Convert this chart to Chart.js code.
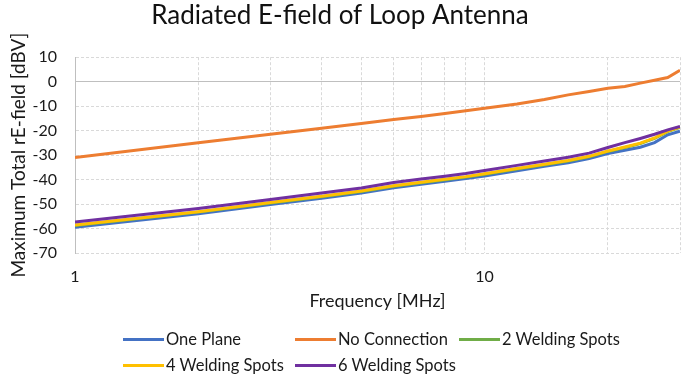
<!DOCTYPE html>
<html>
<head>
<meta charset="utf-8">
<script src="https://cdn.jsdelivr.net/npm/chart.js@4.4.1/dist/chart.umd.min.js"></script>
<style>
  body { margin: 0; background: #fff; }
  #wrap { position: relative; width: 681px; height: 383px; }
  #legend {
    position: absolute; left: 123px; top: 326px;
    display: grid; grid-template-columns: 172px 164px auto;
    font-family: Lato, sans-serif; font-size: 16.5px; color: #1a1a1a;
  }
  .item { display: flex; align-items: center; height: 26px; white-space: nowrap; }
  .item .swatch { display: inline-block; width: 41px; height: 3px; margin-right: 2px; }
</style>
</head>
<body>
<div id="wrap">
  <canvas id="myChart"></canvas>
  <div id="legend"></div>
</div>
<script>
// frequencies in MHz
var freqs = [1, 2, 3, 4, 5, 6, 7, 8, 9, 10, 12, 14, 16, 18, 20, 22, 24, 26, 28, 30];

var seriesNames = ['One Plane', 'No Connection', '2 Welding Spots', '4 Welding Spots', '6 Welding Spots'];
var seriesColors = ['#4472C4', '#ED7D31', '#70AD47', '#FFC000', '#7030A0'];

var onePlane     = [-59.5, -54.0, -50.2, -47.6, -45.5, -43.3, -41.9, -40.7, -39.6, -38.5, -36.4, -34.6, -33.1, -31.4, -29.4, -28.0, -26.8, -24.9, -21.7, -20.2];
var noConnection = [-31.0, -25.0, -21.5, -19.0, -17.1, -15.5, -14.2, -13.0, -11.9, -10.9, -9.1, -7.3, -5.4, -4.0, -2.7, -2.0, -0.6, 0.6, 1.7, 4.7];
var weld2        = [-58.8, -53.3, -49.6, -47.0, -44.9, -42.7, -41.3, -40.1, -39.0, -37.8, -35.7, -33.9, -32.4, -30.7, -28.5, -26.9, -25.3, -23.2, -20.4, -18.7];
var weld4        = [-58.6, -53.1, -49.4, -46.8, -44.7, -42.5, -41.1, -39.9, -38.8, -37.6, -35.5, -33.7, -32.2, -30.5, -28.3, -26.7, -25.1, -23.0, -20.2, -18.5];
var weld6        = [-57.3, -51.8, -48.1, -45.5, -43.4, -41.2, -39.8, -38.6, -37.5, -36.3, -34.2, -32.4, -30.9, -29.2, -26.9, -24.9, -23.2, -21.5, -19.7, -18.3];

var seriesValues = [onePlane, noConnection, weld2, weld4, weld6];

// x axis grid lines and the ones that get a label
var xGridTicks = [1, 2, 3, 4, 5, 6, 7, 8, 9, 10, 20, 30];
var xTickLabels = [1, 10];

var FONT = 'Lato, sans-serif';
var TEXT = '#1a1a1a';

Chart.defaults.font.family = FONT;
Chart.defaults.color = TEXT;

// html legend, laid out like the excel one
var htmlLegend = {
  id: 'htmlLegend',
  afterUpdate: function(chart) {
    var box = document.getElementById('legend');
    box.innerHTML = '';
    chart.data.datasets.forEach(function(ds) {
      var item = document.createElement('div');
      item.className = 'item';
      var sw = document.createElement('span');
      sw.className = 'swatch';
      sw.style.background = ds.borderColor;
      var txt = document.createElement('span');
      txt.textContent = ds.label;
      item.appendChild(sw);
      item.appendChild(txt);
      box.appendChild(item);
    });
  }
};

var datasets = seriesNames.map(function(name, i) {
  return {
    label: name,
    data: freqs.map(function(f, j) { return { x: f, y: seriesValues[i][j] }; }),
    borderColor: seriesColors[i],
    backgroundColor: seriesColors[i],
    borderWidth: 3,
    pointRadius: 0,
    fill: false,
    tension: 0,
    order: seriesNames.length - i   // later series drawn on top, like excel
  };
});

var ctx = document.getElementById('myChart').getContext('2d');
var myChart = new Chart(ctx, {
  type: 'line',
  data: { datasets: datasets },
  plugins: [htmlLegend],
  options: {
    responsive: true,
    maintainAspectRatio: false,
    animation: false,
    layout: { padding: { left: 0, right: 1, top: 0, bottom: 63 } },
    plugins: {
      legend: { display: false },
      tooltip: { enabled: false },
      title: {
        display: true,
        text: 'Radiated E-field of Loop Antenna',
        color: '#111',
        font: { size: 26, weight: 'normal', family: FONT },
        padding: { top: 0, bottom: 26 }
      }
    },
    scales: {
      x: {
        type: 'logarithmic',
        min: 1,
        max: 30,
        afterBuildTicks: function(scale) {
          scale.ticks = xGridTicks.map(function(v) { return { value: v }; });
        },
        afterFit: function(scale) { scale.height = 67; },
        ticks: {
          autoSkip: false,
          maxRotation: 0,
          padding: 0,
          font: { size: 16 },
          callback: function(value) {
            return xTickLabels.indexOf(value) >= 0 ? String(value) : '';
          }
        },
        // invisible tick marks give the gap below the plot without side padding
        grid: { color: '#d9d9d9', lineWidth: 1, drawTicks: true, tickLength: 14, tickColor: 'rgba(0,0,0,0)' },
        border: { display: false, dash: [3, 2] },
        title: {
          display: true,
          text: 'Frequency [MHz]',
          font: { size: 18 },
          padding: { top: 0, bottom: 8 }
        }
      },
      y: {
        min: -70,
        max: 10,
        afterFit: function(scale) { scale.width = 75; },
        ticks: { stepSize: 10, padding: 0, font: { size: 16 } },
        grid: {
          drawTicks: true,
          tickLength: 18,
          tickColor: 'rgba(0,0,0,0)',
          lineWidth: 1,
          color: function(c) { return c.tick && c.tick.value === 0 ? '#bfbfbf' : '#d9d9d9'; }
        },
        border: {
          display: true,
          color: '#bfbfbf',
          width: 1,
          dash: function(c) { return c.tick && c.tick.value === 0 ? [] : [3, 2]; }
        },
        title: {
          display: true,
          text: 'Maximum Total rE-field [dBV]',
          font: { size: 19 },
          padding: { top: 7, bottom: 0 }
        }
      }
    }
  }
});
</script>
</body>
</html>
